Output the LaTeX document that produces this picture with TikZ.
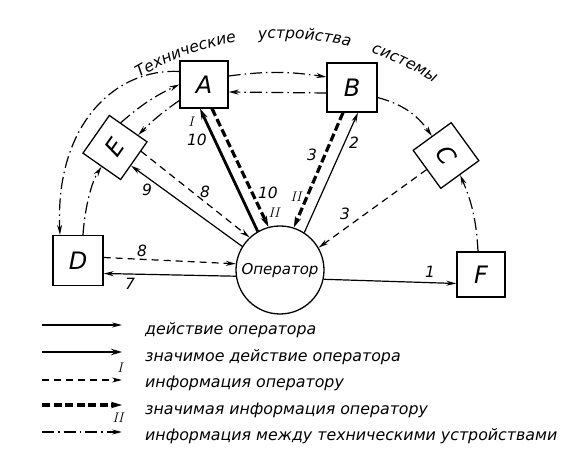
\documentclass[tikz,border=0pt]{standalone}
\usepackage{fontspec}
\newfontfamily\hand{DejaVu Sans}
\usetikzlibrary{arrows.meta,decorations.text,calc}
\tikzset{
  box/.style={draw, line width=1.3pt, minimum width=48pt, minimum height=47pt, inner sep=0pt,
    font=\hand\itshape\fontsize{24}{24}\selectfont},
  tipa/.style={-{Stealth[length=10pt,width=5pt]}},
  act/.style={tipa, line width=1.2pt},
  sigact/.style={-{Stealth[length=11pt,width=6.5pt]}, line width=2.8pt},
  inf/.style={tipa, line width=1.2pt, dash pattern=on 7pt off 5pt},
  siginf/.style={-{Stealth[length=11pt,width=6.5pt]}, line width=3.2pt, dash pattern=on 8pt off 3.5pt},
  dev/.style={tipa, line width=1.2pt, dash pattern=on 12pt off 4pt on 1.5pt off 4pt},
  num/.style={font=\hand\itshape\fontsize{15.5}{15.5}\selectfont, inner sep=0pt},
  rom/.style={font=\itshape\fontsize{14}{14}\selectfont, inner sep=0pt},
  leg/.style={font=\hand\itshape\fontsize{15.8}{16}\selectfont, anchor=west, inner sep=0pt}
}
\begin{document}
\begin{tikzpicture}[x=1pt,y=1pt]
\useasboundingbox (0,0) rectangle (579,461);

% nodes
\node[circle, draw, line width=1.3pt, minimum size=88pt, inner sep=0pt,
  font=\hand\itshape\fontsize{15}{15}\selectfont] (op) at (280,191) {Оператор};
\node[box] (A) at (204,376.5) {A};
\node[box, minimum width=50pt, minimum height=49pt] (B) at (352,373.5) {B};
\node[box, rotate=-54, minimum width=47pt, minimum height=47pt] (C) at (446,305.5) {C};
\node[box, rotate=55, minimum width=46pt, minimum height=46pt] (E) at (115,313.5) {E};
\node[box, minimum width=50pt, minimum height=50pt] (D) at (78,200.5) {D};
\node[box, minimum width=48pt, minimum height=45pt] (F) at (481,186.5) {F};

% title along arc
\path[decorate, decoration={text along path,
  text={|\hand\itshape\fontsize{15.5}{15.5}\selectfont|Технические устройства системы},
  text align={fit to path stretching spaces}}]
  (139,383) arc[start angle=121, end angle=57, radius=278pt];

% device links
\draw[dev] ([yshift=8.5pt]A.east) to[bend left=8] ([yshift=10.5pt]B.west);
\draw[dev] ([yshift=-5.5pt]B.west) -- ([yshift=-7.5pt]A.east);
\draw[dev] ($(E.north east)!0.3!(E.south east)$) to[bend left=8] (A.west);
\draw[dev] ([yshift=-16pt]A.west) to[bend right=5] ($(E.north east)!0.75!(E.south east)$);
\draw[dev] ([yshift=13pt]A.west) .. controls (115,393) and (55,336) .. ([xshift=-18pt]D.north);
\draw[dev] ([xshift=5pt]D.north) .. controls (85,255) and (92,280) .. (E.west);
\draw[dev] ([yshift=-10pt]B.east) to[bend left=20] (C.west);
\draw[dev] ([xshift=-3pt]F.north) to[bend right=10] (C.east);

% operator links
\draw[inf] (C.south) -- (op.30);
\draw[act] (op.57) -- ([xshift=6pt]B.south);
\draw[siginf] ([xshift=-9pt]B.south) -- (op.72);
\draw[sigact] (op.120) -- ([xshift=-4pt]A.south);
\draw[siginf] ([xshift=8pt]A.south) -- (op.105);
\draw[act] (op.148) -- ($(E.south east)!0.62!(E.south west)$);
\draw[inf] ($(E.south east)!0.25!(E.south west)$) -- (op.133);
\draw[inf] ([yshift=3pt]D.east) -- (op.172);
\draw[act] (op.188) -- ([yshift=-13pt]D.east);
\draw[act] (op.-12) -- ([yshift=-9pt]F.west);

% labels
\node[num] (n8a) at (142,210) {8};
\node[num] (n7) at (130,177) {7};
\node[num] (n1) at (430,189) {1};
\node[num] (n9) at (147,271) {9};
\node[num] (n8b) at (205,269) {8};
\node[rom] (rI) at (191,339) {I};
\node[num] (n10a) at (197,321) {10};
\node[num] (n10b) at (268,268) {10};
\node[rom] (rIIa) at (274,248) {II};
\node[num] (n3a) at (312,306) {3};
\node[num] (n2) at (354,318) {2};
\node[rom] (rIIb) at (296,264) {II};
\node[num] (n3b) at (345,247) {3};

% legend
\coordinate (g1a) at (42,136); \coordinate (g1b) at (122,136);
\coordinate (g2a) at (42,109); \coordinate (g2b) at (122,109);
\coordinate (g3a) at (42,81);  \coordinate (g3b) at (122,81);
\coordinate (g4a) at (42,56);  \coordinate (g4b) at (122,56);
\coordinate (g5a) at (42,29);  \coordinate (g5b) at (122,29);
\draw[act] (g1a) -- (g1b);
\draw[sigact] (g2a) -- (g2b);
\draw[inf] (g3a) -- (g3b);
\draw[siginf] (g4a) -- (g4b);
\draw[dev] (g5a) -- (g5b);
\node[leg] (t1) at (145,131) {действие оператора};
\node[leg] (t2) at (145,104) {значимое действие оператора};
\node[leg] (t3) at (145,78) {информация оператору};
\node[leg] (t4) at (145,51) {значимая информация оператору};
\node[leg] (t5) at (145,25) {информация между техническими устройствами};
\node[rom] (lI) at (120,93) {I};
\node[rom] (lII) at (118,43) {II};
\end{tikzpicture}
\end{document}
